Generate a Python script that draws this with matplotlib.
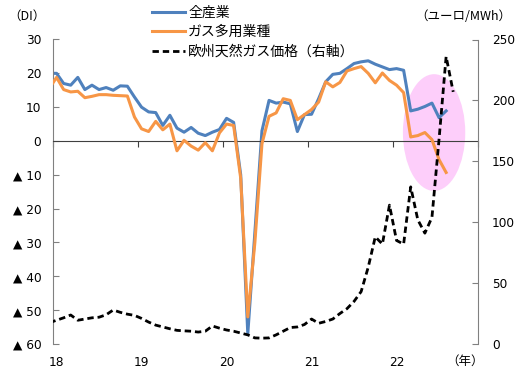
import numpy as np
import matplotlib
matplotlib.use("Agg")
import matplotlib.pyplot as plt
from matplotlib.patches import Ellipse

# monthly data, first value = Dec 2017 (clipped at the left edge)
all_industry = [20, 20, 17, 16.5, 18.8, 15.2, 16.5, 15.2, 15.8, 15.0, 16.3, 16.2, 13,
                10, 8.6, 8.4, 4.6, 7.6, 3.8, 2.6, 4.0, 2.3, 1.6, 2.6, 3.4,
                6.7, 5.5, -10, -57, -27, 3, 12, 11.2, 11.5, 11, 2.8, 7.8,
                7.9, 12.5, 17.5, 19.7, 20, 21.4, 22.9, 23.4, 23.7, 22.7, 21.9, 21.1,
                21.4, 20.9, 8.9, 9.4, 10.2, 11.2, 6.9, 8.9]
gas_heavy = [15.6, 18.8, 15.2, 14.5, 14.7, 12.8, 13.2, 13.7, 13.7, 13.5, 13.4, 13.3, 7.1,
             3.6, 2.8, 5.8, 3.3, 5.0, -2.9, 0.2, -1.5, -2.7, -0.5, -2.9, 2.4,
             5.0, 4.6, -11, -52, -30, -0.8, 7.3, 8.3, 12.5, 12.0, 6.3, 7.8,
             9.3, 11.5, 17.5, 16.0, 17.3, 20.7, 21.4, 22.0, 20.0, 17.2, 20.1, 17.9,
             16.5, 14.3, 1.2, 1.6, 2.5, 0.4, -5.5, -9.3]
gas_price = [17.5, 19.5, 21.5, 23.8, 19.5, 20.5, 21.5, 22, 24, 27.9, 26, 24.5, 23.5,
             21, 18, 15.5, 14, 12.5, 11.2, 10.8, 10.5, 9.8, 10.5, 14.8, 13,
             11.5, 10.5, 9, 7.5, 5, 4.8, 5, 7.5, 10.5, 13.5, 14, 16,
             20.5, 17, 18.5, 20.5, 25, 29, 35, 43, 63, 88, 82, 114,
             85, 82, 129, 102, 91, 104, 168, 236, 207]
years = ["18", "19", "20", "21", "22"]
left_ticks = list(range(-60, 31, 10))
right_ticks = list(range(0, 251, 50))

plt.rcParams['font.family'] = ['DejaVu Sans', 'Noto Sans CJK JP']
jp = ['Noto Sans CJK JP', 'DejaVu Sans']

fig = plt.figure(figsize=(5.2, 3.82), dpi=100)
ax = fig.add_axes([53/520, 1-344/382, 425/520, 304.5/382])

# month index -> centre of its category (first value is one month before the axis)
x_di = np.arange(len(all_industry)) - 1 + 0.5
x_gas = np.arange(len(gas_price)) - 1 + 0.5

# highlight
ax.add_patch(Ellipse((53.8, 2.5), 8.8, 34.5, facecolor='#FDCEFA', edgecolor='none', zorder=1))

l1, = ax.plot(x_di, all_industry, color='#4F81BD', lw=2.2, label='全産業', zorder=2)
l2, = ax.plot(x_di, gas_heavy, color='#F79646', lw=2.2, label='ガス多用業種', zorder=3)

ax.set_xlim(0, 60)
ax.set_ylim(-60, 30)
ax.set_yticks(left_ticks)
ax.set_yticklabels([str(v) if v >= 0 else '▲ ' + str(-v) for v in left_ticks])
ax.tick_params(axis='y', direction='in', length=4, pad=8.5, labelsize=8.7, color='#808080')
ax.spines['left'].set_color('#808080')
ax.spines['top'].set_visible(False)
ax.spines['right'].set_visible(False)
ax.spines['bottom'].set_position(('data', 0))
ax.spines['bottom'].set_color('#404040')
ax.set_xticks(range(0, 61, 12))
ax.set_xticklabels([])
ax.tick_params(axis='x', direction='out', length=4, color='#404040')

sec = ax.secondary_xaxis(0)
sec.set_xticks([12*i + 0.5 for i in range(len(years))], labels=years)
sec.tick_params(length=0, pad=9, labelsize=8.7)
sec.spines['bottom'].set_visible(False)

ax2 = ax.twinx()
l3, = ax2.plot(x_gas, gas_price, color='black', lw=2.0, linestyle=(0, (2.3, 1.4)),
               label='欧州天然ガス価格（右軸）')
ax2.set_ylim(0, 250)
ax2.set_yticks(right_ticks)
ax2.tick_params(axis='y', direction='in', length=4, pad=10, labelsize=8.7, color='#808080')
for s in ['left', 'top', 'bottom']:
    ax2.spines[s].set_visible(False)
ax2.spines['right'].set_color('#808080')

fig.legend(handles=[l1, l2, l3], loc='upper left', bbox_to_anchor=(152/520, 1-6/382),
           frameon=False, prop={'family': jp, 'size': 10}, handlelength=2.4,
           handletextpad=0.2, labelspacing=0.38, borderpad=0, borderaxespad=0)

fig.text(27/520, 1-16/382, '（DI）', ha='center', va='center', fontsize=9, family=jp)
fig.text(463/520, 1-16/382, '（ユーロ/MWh）', ha='center', va='center', fontsize=9, family=jp)
fig.text(465/520, 1-361/382, '（年）', ha='center', va='center', fontsize=9, family=jp)

fig.savefig('out.png', dpi=100)
